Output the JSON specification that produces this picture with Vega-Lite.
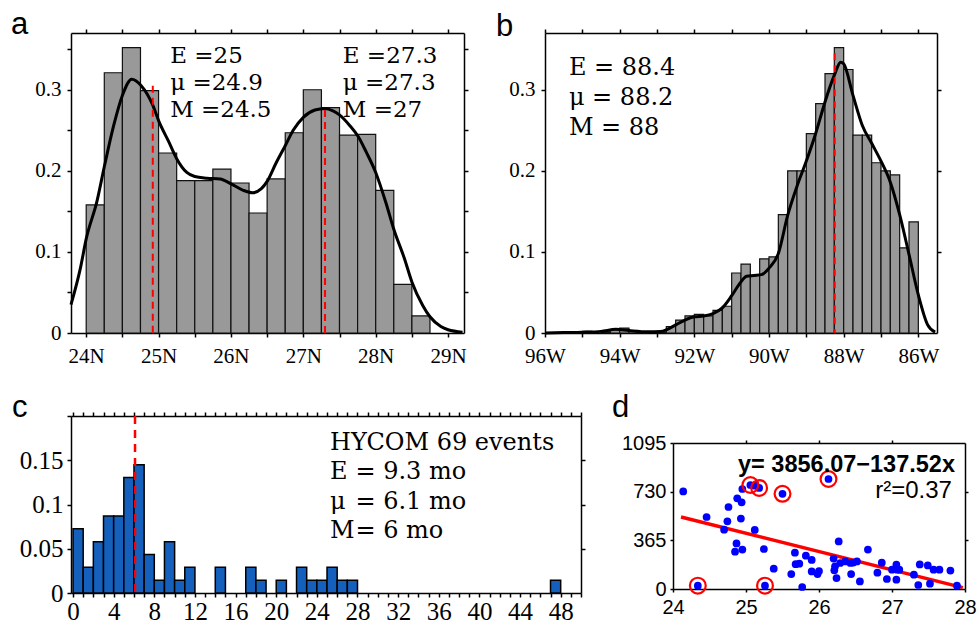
{
  "$schema": "https://vega.github.io/schema/vega-lite/v6.json",
  "background": "white",
  "padding": {"left": 11, "top": 8, "right": 0, "bottom": 0},
  "config": {
    "view": {"stroke": null},
    "axis": {"grid": false, "domainColor": "#000", "domainWidth": 1.5, "tickColor": "#000", "tickWidth": 1.5, "tickSize": 4, "labelColor": "#000", "labelOverlap": false, "labelFlush": false, "minExtent": 0}
  },
  "datasets": {
    "a_bars": [
      {"lo": 24, "hi": 24.25, "p": 0.158}, {"lo": 24.25, "hi": 24.5, "p": 0.321}, {"lo": 24.5, "hi": 24.75, "p": 0.352},
      {"lo": 24.75, "hi": 25, "p": 0.299}, {"lo": 25, "hi": 25.25, "p": 0.222}, {"lo": 25.25, "hi": 25.5, "p": 0.188},
      {"lo": 25.5, "hi": 25.75, "p": 0.188}, {"lo": 25.75, "hi": 26, "p": 0.202}, {"lo": 26, "hi": 26.25, "p": 0.185},
      {"lo": 26.25, "hi": 26.5, "p": 0.148}, {"lo": 26.5, "hi": 26.75, "p": 0.19}, {"lo": 26.75, "hi": 27, "p": 0.247},
      {"lo": 27, "hi": 27.25, "p": 0.3}, {"lo": 27.25, "hi": 27.5, "p": 0.278}, {"lo": 27.5, "hi": 27.75, "p": 0.244},
      {"lo": 27.75, "hi": 28, "p": 0.245}, {"lo": 28, "hi": 28.25, "p": 0.176}, {"lo": 28.25, "hi": 28.5, "p": 0.06},
      {"lo": 28.5, "hi": 28.75, "p": 0.021}
    ],
    "a_kde": [
      {"x": 23.79, "p": 0.035}, {"x": 23.92, "p": 0.08}, {"x": 24.0, "p": 0.116}, {"x": 24.15, "p": 0.163},
      {"x": 24.25, "p": 0.205}, {"x": 24.38, "p": 0.256}, {"x": 24.5, "p": 0.293}, {"x": 24.63, "p": 0.313},
      {"x": 24.76, "p": 0.305}, {"x": 24.92, "p": 0.281}, {"x": 25.0, "p": 0.262}, {"x": 25.14, "p": 0.236},
      {"x": 25.25, "p": 0.215}, {"x": 25.39, "p": 0.198}, {"x": 25.5, "p": 0.193}, {"x": 25.67, "p": 0.191},
      {"x": 25.85, "p": 0.19}, {"x": 26.0, "p": 0.184}, {"x": 26.17, "p": 0.176}, {"x": 26.3, "p": 0.173},
      {"x": 26.42, "p": 0.178}, {"x": 26.5, "p": 0.187}, {"x": 26.62, "p": 0.209}, {"x": 26.75, "p": 0.231},
      {"x": 26.86, "p": 0.25}, {"x": 27.0, "p": 0.266}, {"x": 27.16, "p": 0.275}, {"x": 27.3, "p": 0.277},
      {"x": 27.41, "p": 0.274}, {"x": 27.5, "p": 0.269}, {"x": 27.64, "p": 0.256}, {"x": 27.76, "p": 0.242},
      {"x": 27.87, "p": 0.223}, {"x": 28.0, "p": 0.198}, {"x": 28.14, "p": 0.161}, {"x": 28.25, "p": 0.128},
      {"x": 28.4, "p": 0.091}, {"x": 28.5, "p": 0.063}, {"x": 28.65, "p": 0.034}, {"x": 28.75, "p": 0.02},
      {"x": 28.9, "p": 0.008}, {"x": 29.0, "p": 0.004}, {"x": 29.2, "p": 0.001}
    ],
    "a_means": [{"x": 24.92, "top": 0.305}, {"x": 27.3, "top": 0.275}],
    "b_bars": [
      {"lo": -95, "hi": -94.75, "p": 0.002}, {"lo": -94.5, "hi": -94.25, "p": 0.0015}, {"lo": -94.25, "hi": -94, "p": 0.004},
      {"lo": -94, "hi": -93.75, "p": 0.006}, {"lo": -93.75, "hi": -93.5, "p": 0.002}, {"lo": -93.5, "hi": -93.25, "p": 0.001},
      {"lo": -93, "hi": -92.75, "p": 0.001}, {"lo": -92.75, "hi": -92.5, "p": 0.008}, {"lo": -92.5, "hi": -92.25, "p": 0.016},
      {"lo": -92.25, "hi": -92, "p": 0.021}, {"lo": -92, "hi": -91.75, "p": 0.023}, {"lo": -91.75, "hi": -91.5, "p": 0.021},
      {"lo": -91.5, "hi": -91.25, "p": 0.028}, {"lo": -91.25, "hi": -91, "p": 0.033}, {"lo": -91, "hi": -90.75, "p": 0.074},
      {"lo": -90.75, "hi": -90.5, "p": 0.085}, {"lo": -90.5, "hi": -90.25, "p": 0.071}, {"lo": -90.25, "hi": -90, "p": 0.0915},
      {"lo": -90, "hi": -89.75, "p": 0.094}, {"lo": -89.75, "hi": -89.5, "p": 0.146}, {"lo": -89.5, "hi": -89.25, "p": 0.2},
      {"lo": -89.25, "hi": -89, "p": 0.2}, {"lo": -89, "hi": -88.75, "p": 0.246}, {"lo": -88.75, "hi": -88.5, "p": 0.283},
      {"lo": -88.5, "hi": -88.25, "p": 0.32}, {"lo": -88.25, "hi": -88, "p": 0.352}, {"lo": -88, "hi": -87.75, "p": 0.325},
      {"lo": -87.75, "hi": -87.5, "p": 0.244}, {"lo": -87.5, "hi": -87.25, "p": 0.244}, {"lo": -87.25, "hi": -87, "p": 0.21},
      {"lo": -87, "hi": -86.75, "p": 0.2}, {"lo": -86.75, "hi": -86.5, "p": 0.195}, {"lo": -86.5, "hi": -86.25, "p": 0.105},
      {"lo": -86.25, "hi": -86, "p": 0.137}
    ],
    "b_kde": [
      {"x": -96, "p": 0}, {"x": -95.5, "p": 0.0005}, {"x": -95, "p": 0.001}, {"x": -94.5, "p": 0.002},
      {"x": -94.1, "p": 0.0045}, {"x": -93.75, "p": 0.003}, {"x": -93.25, "p": 0.0015}, {"x": -92.9, "p": 0.002},
      {"x": -92.75, "p": 0.004}, {"x": -92.5, "p": 0.01}, {"x": -92.25, "p": 0.016}, {"x": -92, "p": 0.02},
      {"x": -91.75, "p": 0.021}, {"x": -91.5, "p": 0.024}, {"x": -91.25, "p": 0.031}, {"x": -91, "p": 0.046},
      {"x": -90.8, "p": 0.06}, {"x": -90.6, "p": 0.07}, {"x": -90.4, "p": 0.071}, {"x": -90.2, "p": 0.072},
      {"x": -90, "p": 0.08}, {"x": -89.75, "p": 0.098}, {"x": -89.5, "p": 0.145}, {"x": -89.25, "p": 0.181},
      {"x": -89, "p": 0.212}, {"x": -88.75, "p": 0.246}, {"x": -88.5, "p": 0.285}, {"x": -88.25, "p": 0.318},
      {"x": -88.08, "p": 0.334}, {"x": -88, "p": 0.332}, {"x": -87.75, "p": 0.293}, {"x": -87.5, "p": 0.256},
      {"x": -87.25, "p": 0.234}, {"x": -87, "p": 0.212}, {"x": -86.75, "p": 0.186}, {"x": -86.5, "p": 0.146},
      {"x": -86.25, "p": 0.097}, {"x": -86, "p": 0.047}, {"x": -85.75, "p": 0.01}, {"x": -85.55, "p": 0.001}
    ],
    "c_bars": [
      {"lo": 0, "hi": 1, "p": 0.0725}, {"lo": 1, "hi": 2, "p": 0.029}, {"lo": 2, "hi": 3, "p": 0.058},
      {"lo": 3, "hi": 4, "p": 0.087}, {"lo": 4, "hi": 5, "p": 0.087}, {"lo": 5, "hi": 6, "p": 0.1304},
      {"lo": 6, "hi": 7, "p": 0.1449}, {"lo": 7, "hi": 8, "p": 0.0435}, {"lo": 8, "hi": 9, "p": 0.0145},
      {"lo": 9, "hi": 10, "p": 0.058}, {"lo": 10, "hi": 11, "p": 0.0145}, {"lo": 11, "hi": 12, "p": 0.029},
      {"lo": 14, "hi": 15, "p": 0.029}, {"lo": 17, "hi": 18, "p": 0.029}, {"lo": 18, "hi": 19, "p": 0.0145},
      {"lo": 20, "hi": 21, "p": 0.0145}, {"lo": 22, "hi": 23, "p": 0.029}, {"lo": 23, "hi": 24, "p": 0.0145},
      {"lo": 24, "hi": 25, "p": 0.0145}, {"lo": 25, "hi": 26, "p": 0.029}, {"lo": 26, "hi": 27, "p": 0.0145},
      {"lo": 27, "hi": 28, "p": 0.0145}, {"lo": 47, "hi": 48, "p": 0.0145}
    ],
    "d_pts": [
      {"lat": 24.14, "days": 732, "hl": false}, {"lat": 24.46, "days": 540, "hl": false}, {"lat": 24.7, "days": 445, "hl": false},
      {"lat": 24.745, "days": 508, "hl": false}, {"lat": 24.76, "days": 615, "hl": false}, {"lat": 24.88, "days": 680, "hl": false},
      {"lat": 24.94, "days": 650, "hl": false}, {"lat": 24.95, "days": 750, "hl": false}, {"lat": 24.93, "days": 528, "hl": false},
      {"lat": 24.87, "days": 342, "hl": false}, {"lat": 24.85, "days": 280, "hl": false}, {"lat": 24.95, "days": 296, "hl": false},
      {"lat": 25.06, "days": 780, "hl": true}, {"lat": 25.12, "days": 775, "hl": false}, {"lat": 25.18, "days": 758, "hl": true},
      {"lat": 25.12, "days": 443, "hl": false}, {"lat": 25.245, "days": 300, "hl": false}, {"lat": 25.5, "days": 714, "hl": true},
      {"lat": 25.38, "days": 152, "hl": false}, {"lat": 24.34, "days": 25, "hl": true}, {"lat": 25.26, "days": 25, "hl": true},
      {"lat": 25.62, "days": 112, "hl": false}, {"lat": 25.67, "days": 272, "hl": false}, {"lat": 25.68, "days": 186, "hl": false},
      {"lat": 25.73, "days": 190, "hl": false}, {"lat": 25.77, "days": 15, "hl": false}, {"lat": 25.82, "days": 250, "hl": false},
      {"lat": 25.9, "days": 218, "hl": false}, {"lat": 25.9, "days": 132, "hl": false}, {"lat": 25.98, "days": 112, "hl": false},
      {"lat": 26.0, "days": 135, "hl": false}, {"lat": 26.13, "days": 825, "hl": true}, {"lat": 26.2, "days": 228, "hl": false},
      {"lat": 26.22, "days": 170, "hl": false}, {"lat": 26.27, "days": 357, "hl": false}, {"lat": 26.21, "days": 140, "hl": false},
      {"lat": 26.24, "days": 82, "hl": false}, {"lat": 26.29, "days": 195, "hl": false}, {"lat": 26.36, "days": 207, "hl": false},
      {"lat": 26.43, "days": 195, "hl": false}, {"lat": 26.44, "days": 112, "hl": false}, {"lat": 26.47, "days": 198, "hl": false},
      {"lat": 26.52, "days": 207, "hl": false}, {"lat": 26.56, "days": 57, "hl": false}, {"lat": 26.67, "days": 296, "hl": false},
      {"lat": 26.8, "days": 122, "hl": false}, {"lat": 26.86, "days": 197, "hl": false}, {"lat": 26.93, "days": 75, "hl": false},
      {"lat": 27.0, "days": 145, "hl": false}, {"lat": 27.06, "days": 182, "hl": false}, {"lat": 27.07, "days": 145, "hl": false},
      {"lat": 27.06, "days": 70, "hl": false}, {"lat": 27.1, "days": 145, "hl": false}, {"lat": 27.3, "days": 107, "hl": false},
      {"lat": 27.36, "days": 30, "hl": false}, {"lat": 27.38, "days": 184, "hl": false}, {"lat": 27.49, "days": 177, "hl": false},
      {"lat": 27.52, "days": 40, "hl": false}, {"lat": 27.57, "days": 145, "hl": false}, {"lat": 27.65, "days": 145, "hl": false},
      {"lat": 27.8, "days": 138, "hl": false}, {"lat": 27.89, "days": 25, "hl": false}
    ],
    "d_fit": [{"lat": 24.11, "days": 540}, {"lat": 27.97, "days": 10}],
    "one": [{}]
  },
  "vconcat": [
    {
      "hconcat": [
        {
          "width": 393, "height": 300,
          "resolve": {"axis": {"x": "independent", "y": "independent"}},
          "layer": [
            {
              "data": {"name": "a_bars"},
              "mark": {"type": "rect", "fill": "#999999", "stroke": "#111", "strokeWidth": 1.2},
              "encoding": {
                "x": {"field": "lo", "type": "quantitative", "scale": {"domain": [23.79, 29.22], "nice": false, "zero": false},
                  "axis": {"orient": "bottom", "title": null, "values": [24, 24.5, 25, 25.5, 26, 26.5, 27, 27.5, 28, 28.5, 29], "labelExpr": "datum.value % 1 == 0 ? datum.value + 'N' : ''", "labelFont": "Liberation Serif", "labelFontSize": 21, "labelPadding": 8}},
                "x2": {"field": "hi"},
                "y": {"field": "p", "type": "quantitative", "scale": {"domain": [0, 0.37], "nice": false},
                  "axis": {"orient": "left", "title": null, "values": [0, 0.05, 0.1, 0.15, 0.2, 0.25, 0.3, 0.35], "labelExpr": "round(datum.value*100) % 10 == 0 ? (datum.value == 0 ? '0' : format(datum.value, '.1f')) : ''", "labelFont": "Liberation Serif", "labelFontSize": 21, "labelPadding": 6}},
                "y2": {"datum": 0}
              }
            },
            {
              "data": {"name": "a_kde"},
              "mark": {"type": "line", "color": "#000", "strokeWidth": 3, "interpolate": "monotone"},
              "encoding": {
                "x": {"field": "x", "type": "quantitative", "axis": {"orient": "top", "title": null, "labels": false, "values": [24, 24.5, 25, 25.5, 26, 26.5, 27, 27.5, 28, 28.5, 29]}},
                "y": {"field": "p", "type": "quantitative", "axis": {"orient": "right", "title": null, "labels": false, "values": [0.05, 0.1, 0.15, 0.2, 0.25, 0.3, 0.35]}}
              }
            },
            {
              "data": {"name": "a_means"},
              "mark": {"type": "rule", "color": "#ff0000", "strokeWidth": 2, "strokeDash": [7, 5]},
              "encoding": {
                "x": {"field": "x", "type": "quantitative", "axis": null},
                "y": {"field": "top", "type": "quantitative", "axis": null},
                "y2": {"datum": 0}
              }
            },
            {
              "data": {"name": "one"},
              "mark": {"type": "text", "align": "left", "baseline": "alphabetic", "font": "DejaVu Serif", "fontSize": 23, "lineHeight": 27, "color": "#000"},
              "encoding": {
                "x": {"datum": 25.16, "type": "quantitative", "axis": null},
                "y": {"datum": 0.333, "type": "quantitative", "axis": null},
                "text": {"value": ["E =25", "μ  =24.9", "M =24.5"]}
              }
            },
            {
              "data": {"name": "one"},
              "mark": {"type": "text", "align": "left", "baseline": "alphabetic", "font": "DejaVu Serif", "fontSize": 23, "lineHeight": 27, "color": "#000"},
              "encoding": {
                "x": {"datum": 27.545, "type": "quantitative", "axis": null},
                "y": {"datum": 0.333, "type": "quantitative", "axis": null},
                "text": {"value": ["E =27.3", "μ  =27.3", "M =27"]}
              }
            },
            {
              "data": {"name": "one"},
              "mark": {"type": "text", "align": "left", "baseline": "alphabetic", "font": "Liberation Sans", "fontSize": 31, "color": "#000"},
              "encoding": {
                "x": {"datum": 22.961, "type": "quantitative", "axis": null},
                "y": {"datum": 0.3688, "type": "quantitative", "axis": null},
                "text": {"value": "a"}
              }
            }
          ]
        },
        {
          "width": 392, "height": 300,
          "resolve": {"axis": {"x": "independent", "y": "independent"}},
          "layer": [
            {
              "data": {"name": "b_bars"},
              "mark": {"type": "rect", "fill": "#999999", "stroke": "#111", "strokeWidth": 1.2},
              "encoding": {
                "x": {"field": "lo", "type": "quantitative", "scale": {"domain": [-96, -85.5], "nice": false, "zero": false},
                  "axis": {"orient": "bottom", "title": null, "values": [-96, -95, -94, -93, -92, -91, -90, -89, -88, -87, -86], "labelExpr": "datum.value % 2 == 0 ? abs(datum.value) + 'W' : ''", "labelFont": "Liberation Serif", "labelFontSize": 21, "labelPadding": 8}},
                "x2": {"field": "hi"},
                "y": {"field": "p", "type": "quantitative", "scale": {"domain": [0, 0.37], "nice": false},
                  "axis": {"orient": "left", "title": null, "values": [0, 0.1, 0.2, 0.3], "labelExpr": "datum.value == 0 ? '0' : format(datum.value, '.1f')", "labelFont": "Liberation Serif", "labelFontSize": 21, "labelPadding": 6}},
                "y2": {"datum": 0}
              }
            },
            {
              "data": {"name": "b_kde"},
              "mark": {"type": "line", "color": "#000", "strokeWidth": 3, "interpolate": "monotone"},
              "encoding": {
                "x": {"field": "x", "type": "quantitative", "axis": {"orient": "top", "title": null, "labels": false, "values": [-96, -95, -94, -93, -92, -91, -90, -89, -88, -87, -86]}},
                "y": {"field": "p", "type": "quantitative", "axis": {"orient": "right", "title": null, "labels": false, "values": [0.1, 0.2, 0.3]}}
              }
            },
            {
              "data": {"name": "one"},
              "mark": {"type": "rule", "color": "#ff0000", "strokeWidth": 2, "strokeDash": [7, 5]},
              "encoding": {
                "x": {"datum": -88.24, "type": "quantitative", "axis": null},
                "y": {"datum": 0.345, "type": "quantitative", "axis": null},
                "y2": {"datum": 0}
              }
            },
            {
              "data": {"name": "one"},
              "mark": {"type": "text", "align": "left", "baseline": "alphabetic", "font": "DejaVu Serif", "fontSize": 24, "lineHeight": 30, "color": "#000"},
              "encoding": {
                "x": {"datum": -95.36, "type": "quantitative", "axis": null},
                "y": {"datum": 0.318, "type": "quantitative", "axis": null},
                "text": {"value": ["E  = 88.4", "μ  = 88.2", "M = 88"]}
              }
            },
            {
              "data": {"name": "one"},
              "mark": {"type": "text", "align": "left", "baseline": "alphabetic", "font": "Liberation Sans", "fontSize": 31, "color": "#000"},
              "encoding": {
                "x": {"datum": -97.313, "type": "quantitative", "axis": null},
                "y": {"datum": 0.3663, "type": "quantitative", "axis": null},
                "text": {"value": "b"}
              }
            }
          ]
        }
      ],
      "spacing": 81,
      "bounds": "flush"
    },
    {
      "hconcat": [
        {
          "width": 510, "height": 177,
          "resolve": {"axis": {"x": "independent", "y": "independent"}},
          "layer": [
            {
              "data": {"name": "c_bars"},
              "mark": {"type": "rect", "fill": "#1560bd", "stroke": "#000", "strokeWidth": 1.5},
              "encoding": {
                "x": {"field": "lo", "type": "quantitative", "scale": {"domain": [-0.2, 50], "nice": false, "zero": false},
                  "axis": {"orient": "bottom", "title": null, "values": [0,1,2,3,4,5,6,7,8,9,10,11,12,13,14,15,16,17,18,19,20,21,22,23,24,25,26,27,28,29,30,31,32,33,34,35,36,37,38,39,40,41,42,43,44,45,46,47,48,49,50], "labelExpr": "datum.value % 4 == 0 && datum.value < 50 ? datum.value + '' : ''", "labelFont": "Liberation Serif", "labelFontSize": 25, "labelPadding": 2}},
                "x2": {"field": "hi"},
                "y": {"field": "p", "type": "quantitative", "scale": {"domain": [0, 0.2], "nice": false},
                  "axis": {"orient": "left", "title": null, "values": [0, 0.05, 0.1, 0.15, 0.2], "labelExpr": "datum.value == 0 ? '0' : datum.value > 0.19 ? '' : format(datum.value, '~g')", "labelFont": "Liberation Serif", "labelFontSize": 25, "labelPadding": 4}},
                "y2": {"datum": 0}
              }
            },
            {
              "data": {"name": "one"},
              "mark": {"type": "rule", "color": "#ff0000", "strokeWidth": 2.5, "strokeDash": [8, 6]},
              "encoding": {
                "x": {"datum": 6.1, "type": "quantitative", "axis": {"orient": "top", "title": null, "labels": false, "values": [0,1,2,3,4,5,6,7,8,9,10,11,12,13,14,15,16,17,18,19,20,21,22,23,24,25,26,27,28,29,30,31,32,33,34,35,36,37,38,39,40,41,42,43,44,45,46,47,48,49,50]}},
                "y": {"datum": 0.2, "type": "quantitative", "axis": {"orient": "right", "title": null, "labels": false, "values": [0.05, 0.1, 0.15]}},
                "y2": {"datum": 0}
              }
            },
            {
              "data": {"name": "one"},
              "mark": {"type": "text", "align": "left", "baseline": "alphabetic", "font": "DejaVu Serif", "fontSize": 24, "color": "#000"},
              "encoding": {
                "x": {"datum": 25.3, "type": "quantitative", "axis": null},
                "y": {"datum": 0.1615, "type": "quantitative", "axis": null},
                "text": {"value": "HYCOM 69 events"}
              }
            },
            {
              "data": {"name": "one"},
              "mark": {"type": "text", "align": "left", "baseline": "alphabetic", "font": "DejaVu Serif", "fontSize": 24, "lineHeight": 29.5, "color": "#000"},
              "encoding": {
                "x": {"datum": 25.3, "type": "quantitative", "axis": null},
                "y": {"datum": 0.1287, "type": "quantitative", "axis": null},
                "text": {"value": ["E", "μ", "M"]}
              }
            },
            {
              "data": {"name": "one"},
              "mark": {"type": "text", "align": "left", "baseline": "alphabetic", "font": "DejaVu Serif", "fontSize": 24, "lineHeight": 29.5, "color": "#000"},
              "encoding": {
                "x": {"datum": 27.8, "type": "quantitative", "axis": null},
                "y": {"datum": 0.1287, "type": "quantitative", "axis": null},
                "text": {"value": ["= 9.3 mo", "= 6.1 mo", "= 6 mo"]}
              }
            },
            {
              "data": {"name": "one"},
              "mark": {"type": "text", "align": "left", "baseline": "alphabetic", "font": "Liberation Sans", "fontSize": 31, "color": "#000"},
              "encoding": {
                "x": {"datum": -6.007, "type": "quantitative", "axis": null},
                "y": {"datum": 0.1989, "type": "quantitative", "axis": null},
                "text": {"value": "c"}
              }
            }
          ]
        },
        {
          "vconcat": [
            {"width": 1, "height": 7, "data": {"name": "one"}, "mark": {"type": "text", "text": ""}},
            {
              "width": 292, "height": 146,
              "resolve": {"axis": {"x": "independent", "y": "independent"}},
              "layer": [
                {
                  "data": {"name": "d_fit"},
                  "mark": {"type": "line", "color": "#ff0000", "strokeWidth": 3.5},
                  "encoding": {
                    "x": {"field": "lat", "type": "quantitative", "scale": {"domain": [24, 28], "nice": false, "zero": false},
                      "axis": {"orient": "bottom", "title": null, "values": [24, 25, 26, 27, 28], "format": "d", "labelFont": "Liberation Sans", "labelFontSize": 20, "labelPadding": 5, "tickSize": 3}},
                    "y": {"field": "days", "type": "quantitative", "scale": {"domain": [0, 1095], "nice": false},
                      "axis": {"orient": "left", "title": null, "values": [0, 365, 730, 1095], "format": "d", "labelFont": "Liberation Sans", "labelFontSize": 20, "labelPadding": 4, "tickSize": 3}}
                  }
                },
                {
                  "data": {"name": "d_pts"},
                  "mark": {"type": "circle", "color": "#0000ff", "size": 60, "opacity": 1},
                  "encoding": {
                    "x": {"field": "lat", "type": "quantitative", "axis": {"orient": "top", "title": null, "labels": false, "values": [25, 26, 27], "tickSize": 3}},
                    "y": {"field": "days", "type": "quantitative", "axis": {"orient": "right", "title": null, "labels": false, "values": [365, 730], "tickSize": 3}}
                  }
                },
                {
                  "data": {"name": "d_pts"},
                  "transform": [{"filter": "datum.hl"}],
                  "mark": {"type": "point", "shape": "circle", "filled": false, "color": "#ff0000", "strokeWidth": 2.2, "size": 250, "opacity": 1},
                  "encoding": {
                    "x": {"field": "lat", "type": "quantitative", "axis": null},
                    "y": {"field": "days", "type": "quantitative", "axis": null}
                  }
                },
                {
                  "data": {"name": "one"},
                  "mark": {"type": "text", "align": "right", "baseline": "alphabetic", "font": "Liberation Sans", "fontSize": 23.5, "fontWeight": "bold", "color": "#000"},
                  "encoding": {
                    "x": {"datum": 27.863, "type": "quantitative", "axis": null},
                    "y": {"datum": 880, "type": "quantitative", "axis": null},
                    "text": {"value": "y= 3856.07−137.52x"}
                  }
                },
                {
                  "data": {"name": "one"},
                  "mark": {"type": "text", "align": "right", "baseline": "alphabetic", "font": "Liberation Sans", "fontSize": 24, "color": "#000"},
                  "encoding": {
                    "x": {"datum": 27.82, "type": "quantitative", "axis": null},
                    "y": {"datum": 683, "type": "quantitative", "axis": null},
                    "text": {"value": "r²=0.37"}
                  }
                },
                {
                  "data": {"name": "one"},
                  "mark": {"type": "text", "align": "left", "baseline": "alphabetic", "font": "Liberation Sans", "fontSize": 31, "color": "#000"},
                  "encoding": {
                    "x": {"datum": 23.164, "type": "quantitative", "axis": null},
                    "y": {"datum": 1290, "type": "quantitative", "axis": null},
                    "text": {"value": "d"}
                  }
                }
              ]
            }
          ],
          "spacing": 20,
          "bounds": "flush"
        }
      ],
      "spacing": 92,
      "bounds": "flush"
    }
  ],
  "spacing": 25
}
